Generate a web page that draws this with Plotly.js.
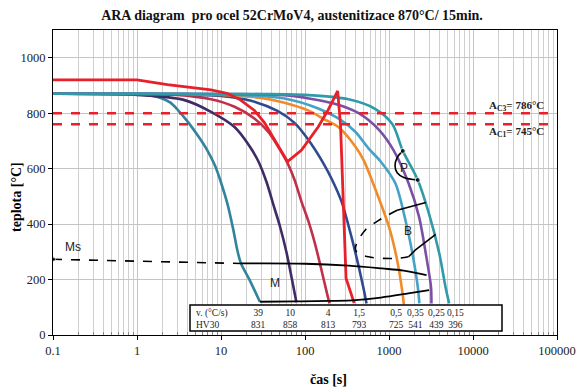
<!DOCTYPE html>
<html><head><meta charset="utf-8">
<script src="https://cdn.plot.ly/plotly-3.0.1.min.js"></script>
<style>html,body{margin:0;padding:0;background:#fff}#c{width:583px;height:392px}</style>
</head><body><div id="c"></div>
<script>
// cooling curves (time s, temperature °C)
const t39 = [0.1,1,1.5,2,2.5,3,4.1,5.5,6.9,8.5,10,12,14,15.8,17.3,21.8,29];
const T39 = [870,868,863,853,838,815,766,712,665,610,550,470,380,300,258,200,120];
const t10 = [0.1,1,3.6,7.6,14.5,22,28,35,42,50,60,70,79];
const T10 = [870,866,848,805,750,680,625,550,470,395,300,200,118];
const t4 = [0.1,1,3,7.6,14.5,25,36.4,50,62,75,91,110,130,150,170,188,196];
const T4 = [870,869,866,850,823,781,733,670,620,560,480,410,335,260,190,135,114];
const t15 = [0.1,1,5,10,22.8,47,75,109,165,210,273,360,437,500,540];
const T15 = [870,869,866,862,845,808,765,705,620,560,480,350,245,165,114];
const t05 = [0.1,3,10,30,57,109,170,250,397,500,690,1000,1250,1450,1500];
const T05 = [870,869,866,855,838,810,778,750,680,630,525,390,270,150,110];
const t035 = [0.1,10,57,144,250,397,570,800,1190,1570,1900,2200,2300];
const T035 = [870,868,853,817,781,733,673,625,547,414,294,174,114];
const t025 = [0.1,10,57,220,435,760,1140,1710,2280,2740,3160,3200];
const T025 = [870,869,865,835,800,740,665,547,426,294,174,114];
const t015 = [0.1,30,100,330,690,1100,1460,2200,2990,3970,4700,5200];
const T015 = [870,869,866,850,815,760,664,559,438,294,174,114];
// transformation start line (red)
const tStart = [0.1,1,2.3,7.6,12,17,25,33,40,62,91,144,188,245,265,280,296,308,385];
const TStart = [920,920,903,884,871,848,810,765,722,625,667,751,811,880,755,560,390,205,115];
// Ms and M lines
const tMs = [0.1,17.3];
const TMs = [273,258];
const tMup = [17.3,100,330,820,1500,2800];
const TMup = [258,257,250,240,232,216];
const tMlow = [29,80,200,400,800,1700,3000];
const TMlow = [120,121,123,126,135,150,162];
// bainite region
const tBtop = [1250,2750];
const TBtop = [450,478];
const tBdash = [1250,820,520,400,410,570,1190,1710];
const TBdash = [450,420,378,318,300,282,276,282];
const tBsolid = [1710,2050,3600];
const TBsolid = [282,306,363];
// pearlite arc
const tP = [1460,1250,1180,1250,1500,2200];
const TP = [664,640,610,585,568,559];
// critical temperatures
const Ac3 = 800, Ac1 = 760;
const Ac3Label = 'A<sub>C3</sub>= 786°C', Ac1Label = 'A<sub>C1</sub>= 745°C';
// table
const rowLabels = ['v. (°C/s)','HV30'];
const rates = ['39','10','4','1,5','0,5','0,35','0,25','0,15'];
const hv = ['831','858','813','793','725','541','439','396'];
const colX = [258,290,328,359,396,415,436,455];

const cols = ['#31849b','#3f2b66','#c0304a','#2e4b8f','#f18b2a','#43a2c6','#7b4fa5','#2f9aa8'];
const ct = [t39,t10,t4,t15,t05,t035,t025,t015];
const cT = [T39,T10,T4,T15,T05,T035,T025,T015];

const traces = [];
ct.forEach((t,i)=>traces.push({x:t,y:cT[i],mode:'lines',line:{color:cols[i],width:2.6,shape:'spline',smoothing:0.8},hoverinfo:'skip'}));
traces.push({x:tStart,y:TStart,mode:'lines',line:{color:'#e8202a',width:2.8},hoverinfo:'skip'});
traces.push({x:tMs,y:TMs,mode:'lines+markers',marker:{size:[5,0],color:'#000'},line:{color:'#000',width:1.6,dash:'dash'}});
traces.push({x:tMup,y:TMup,mode:'lines',line:{color:'#000',width:1.8,shape:'spline'}});
traces.push({x:tMlow,y:TMlow,mode:'lines',line:{color:'#000',width:1.8,shape:'spline'}});
traces.push({x:tBtop,y:TBtop,mode:'lines',line:{color:'#000',width:1.6}});
traces.push({x:tBdash,y:TBdash,mode:'lines',line:{color:'#000',width:1.6,dash:'dash',shape:'spline'}});
traces.push({x:tBsolid,y:TBsolid,mode:'lines',line:{color:'#000',width:1.6}});
traces.push({x:tP,y:TP,mode:'lines+markers',marker:{size:[5,0,0,0,0,5],color:'#000'},line:{color:'#000',width:1.6,shape:'spline'}});
traces.push({x:[0.1,100000],y:[Ac3,Ac3],mode:'lines',line:{color:'#e8202a',width:2.4,dash:'dash'}});
traces.push({x:[0.1,100000],y:[Ac1,Ac1],mode:'lines',line:{color:'#e8202a',width:2.4,dash:'dash'}});

const minorVals = [];
for(let e=-1;e<5;e++) for(let d=2;d<10;d++) minorVals.push(d*Math.pow(10,e));

const W=583,H=392,L=53,R=557,TOP=30,B=335;
const px = v=>(v-L)/(R-L), py = v=>(B-v)/(B-TOP);
const serif = 'Liberation Serif, Times New Roman, serif';
const sans = 'Liberation Sans, Arial, sans-serif';
const ann = [];
function add(x,y,text,font,xa){ann.push({xref:'paper',yref:'paper',x:px(x),y:py(y),text:text,showarrow:false,xanchor:xa||'center',yanchor:'middle',align:xa==='left'?'left':'center',font:font});}
add(328,379,'<b>čas [s]</b>',{family:serif,size:14,color:'#000'});
ann.push({xref:'paper',yref:'paper',x:px(16),y:py(197),xanchor:'center',yanchor:'middle',text:'<b>teplota [°C]</b>',textangle:-90,showarrow:false,font:{family:serif,size:14,color:'#000'}});
add(546,106,'<b>'+Ac3Label+'</b>',{family:serif,size:11,color:'#222'},'right');
add(546,132,'<b>'+Ac1Label+'</b>',{family:serif,size:11,color:'#222'},'right');
add(73,247,'Ms',{family:sans,size:12,color:'#222'});
add(275,283,'M',{family:sans,size:12,color:'#222'});
add(408,231,'B',{family:sans,size:12,color:'#222'});
add(404,168,'P',{family:sans,size:12,color:'#222'});
const tf = {family:serif,size:9.5,color:'#222'};
add(194,318.5,rowLabels.join('<br>'),tf,'left');
rates.forEach((r,i)=>add(colX[i],318.5,r+'<br>'+hv[i],tf));

const layout = {
  width:W,height:H,margin:{l:L,r:W-R,t:TOP,b:H-B},
  paper_bgcolor:'#fff',plot_bgcolor:'#fff',showlegend:false,
  title:{text:'<b>ARA diagram  pro ocel 52CrMoV4, austenitizace 870°C/ 15min.</b>',x:292/W,xref:'container',xanchor:'center',y:1-15/H,yref:'container',yanchor:'middle',font:{family:serif,size:14,color:'#111'}},
  xaxis:{type:'log',range:[-1,5],tickvals:[0.1,1,10,100,1000,10000,100000],ticktext:['0.1','1','10','100','1000','10000','100000'],
    showgrid:true,gridcolor:'#c4c4c4',gridwidth:1,showline:true,linecolor:'#000',linewidth:1,mirror:true,ticks:'outside',ticklen:4,tickcolor:'#000',
    minor:{tickmode:'array',tickvals:minorVals,showgrid:true,gridcolor:'#cfcfcf',gridwidth:1,ticks:'inside',ticklen:3,tickcolor:'#888'},
    tickfont:{family:serif,size:12.5,color:'#222'},zeroline:false},
  yaxis:{range:[0,1100],tickvals:[0,200,400,600,800,1000],showgrid:true,gridcolor:'#c4c4c4',showline:true,linecolor:'#000',linewidth:1,mirror:true,
    ticks:'outside',ticklen:4,tickcolor:'#000',tickfont:{family:serif,size:12.5,color:'#222'},zeroline:false},
  shapes:[{type:'rect',xref:'paper',yref:'paper',x0:px(190),x1:px(502),y0:py(331),y1:py(305),line:{color:'#000',width:1.5},fillcolor:'#fff',layer:'above'}],
  annotations:ann
};
Plotly.newPlot('c',traces,layout,{staticPlot:true});
</script></body></html>
